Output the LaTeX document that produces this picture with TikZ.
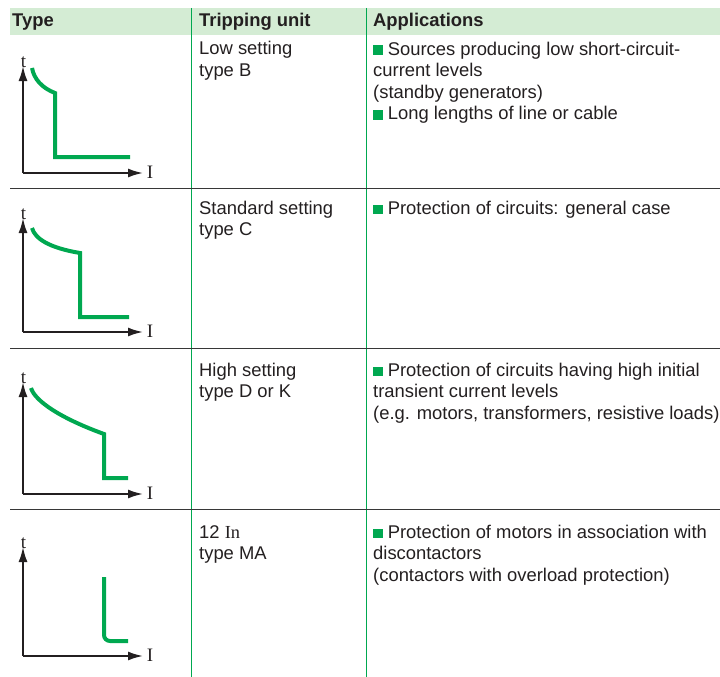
\documentclass[tikz,border=0pt]{standalone}
\usepackage{fontspec}
\setmainfont{Liberation Sans}
\newfontfamily\axisfont{Liberation Serif}
\usetikzlibrary{arrows.meta}
\definecolor{segreen}{RGB}{0,168,80}
\definecolor{headgreen}{RGB}{212,236,212}
\definecolor{textgray}{RGB}{35,31,32}
\definecolor{rulegray}{RGB}{55,55,55}
\newcommand{\greenbox}{\textcolor{segreen}{\rule{9.5pt}{9.5pt}}\ }
\tikzset{
  axisline/.style={line width=1.9pt, textgray, -{Latex[length=15pt,width=9pt]}},
  axislabel/.style={anchor=base, inner sep=0pt, font=\fontsize{19}{21}\axisfont},
  trip/.style={line width=4pt, segreen},
  rowrule/.style={line width=1pt, rulegray},
  colrule/.style={line width=0.9pt, segreen},
}
\begin{document}
\begin{tikzpicture}[x=1pt,y=-1pt,text=textgray]
  \useasboundingbox (0,0) rectangle (720,677);
  \fill[headgreen] (10,8) rectangle (720,35);
  \draw[colrule] (191,8) -- (191,677);
  \draw[colrule] (366,8) -- (366,677);
  \foreach \y in {188,348,509}
    \draw[rowrule] (10,\y) -- (720,\y);
  \begin{scope}[every node/.style={align=left, anchor=base west, inner sep=0pt,
      font=\fontsize{18.4}{21.5}\selectfont}]
    \node[font=\fontsize{18.4}{21.5}\selectfont\bfseries] (hType) at (12,27) {Type};
    \node[font=\fontsize{18.4}{21.5}\selectfont\bfseries] (hUnit) at (199,27) {Tripping unit};
    \node[font=\fontsize{18.4}{21.5}\selectfont\bfseries] (hApps) at (373,27) {Applications};
    \node (unitB) at (199,76.5) {Low setting\\ type B};
    \node (appsB) at (373,119.5) {\greenbox Sources producing low short-circuit-\\ current levels\\
      (standby generators)\\ \greenbox Long lengths of line or cable};
    \node (unitC) at (199,235.5) {Standard setting\\ type C};
    \node (appsC) at (373,214) {\greenbox Protection of circuits: general case};
    \node (unitD) at (199,397.5) {High setting\\ type D or K};
    \node (appsD) at (373,419) {\greenbox Protection of circuits having high initial\\
      transient current levels\\ (e.g. motors, transformers, resistive loads)};
    \node (unitMA) at (199,559.5) {12 {\axisfont In}\\ type MA};
    \node (appsMA) at (373,581) {\greenbox Protection of motors in association with\\
      discontactors\\ (contactors with overload protection)};
  \end{scope}
  \foreach \r/\oy/\ty in {1/173/66,2/332/218,3/494/382,4/656/547}{
    \coordinate (o\r) at (23,\oy);
    \node[axislabel] (t\r) at (23.5,\ty+1) {t};
    \node[axislabel] (i\r) at (150,\oy+5) {I};
    \draw[axisline] (o\r) -- (23,\ty);
    \draw[axisline] (o\r) -- (143,\oy);
  }
  \draw[trip] (32,68) .. controls (34,79) and (42,88) .. (55,93) -- (55,157) -- (130,157);
  \draw[trip] (32,228) .. controls (35,239) and (50,248) .. (80,253) -- (80,317) -- (129,317);
  \draw[trip] (31,388) .. controls (35,401) and (60,418) .. (104,434) -- (104,478) -- (128,478);
  \draw[trip, rounded corners=6pt] (104,577) -- (104,641) -- (128,641);
\end{tikzpicture}
\end{document}
